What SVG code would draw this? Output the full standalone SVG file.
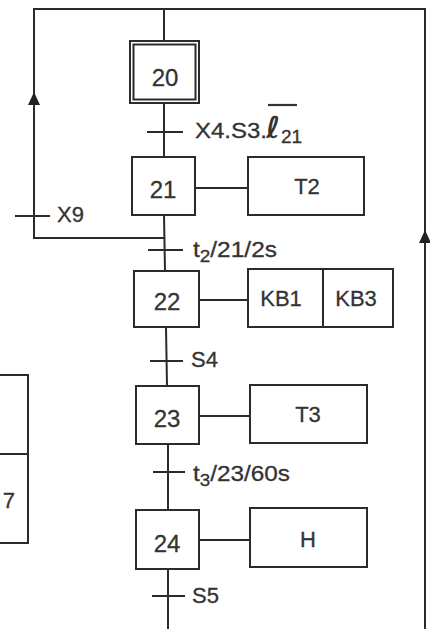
<svg xmlns="http://www.w3.org/2000/svg" width="430" height="629" viewBox="0 0 430 629">
<style>
.b{fill:#fff;stroke:#2b2b2b;stroke-width:2}
.l{fill:none;stroke:#2b2b2b;stroke-width:2}
.t{font-family:"Liberation Sans",Arial,sans-serif;font-size:22px;fill:#333;stroke:#333;stroke-width:0.3}
.n{font-family:"Liberation Sans",Arial,sans-serif;font-size:24px;fill:#333;stroke:#333;stroke-width:0.3;text-anchor:middle}
.a{font-family:"Liberation Sans",Arial,sans-serif;font-size:22px;fill:#333;stroke:#333;stroke-width:0.3;text-anchor:middle}
</style>
<rect width="430" height="629" fill="#fff"/>
<g id="connectors">
<polyline class="l" points="164,238 34,238 34,9 425,9 425,629"/>
<line class="l" x1="164" y1="9" x2="164" y2="41"/>
<line class="l" x1="164" y1="103" x2="164" y2="157"/>
<line class="l" x1="164" y1="215" x2="165" y2="271"/>
<line class="l" x1="166" y1="327" x2="167" y2="386"/>
<line class="l" x1="168" y1="444" x2="168" y2="510"/>
<line class="l" x1="168" y1="569" x2="168" y2="629"/>
<line class="l" x1="195" y1="188" x2="248" y2="188"/>
<line class="l" x1="199" y1="300" x2="248" y2="300"/>
<line class="l" x1="199" y1="416" x2="250" y2="416"/>
<line class="l" x1="199" y1="540" x2="250" y2="540"/>
<polygon points="34,92 28,105 40,105" fill="#222"/>
<polygon points="425,230 419,243 431,243" fill="#222"/>
</g>
<g id="transitions">
<line class="l" x1="147" y1="132" x2="183" y2="132"/>
<text class="t" x="195" y="138" textLength="72" lengthAdjust="spacingAndGlyphs">X4.S3.</text>
<text x="266" y="138" font-family="'DejaVu Sans',sans-serif" font-size="30" font-weight="bold" font-style="italic" fill="#333">ℓ</text>
<line x1="268" y1="105" x2="297" y2="105" stroke="#333" stroke-width="2.2"/>
<text class="t" x="281" y="143" style="font-size:19px">21</text>
<line class="l" x1="15" y1="216" x2="50" y2="216"/>
<text class="t" x="57" y="222">X9</text>
<line class="l" x1="148" y1="250" x2="183" y2="250"/>
<text class="t" x="193" y="257" textLength="84" lengthAdjust="spacingAndGlyphs">t<tspan dy="5" style="font-size:17px">2</tspan><tspan dy="-5">/21/2s</tspan></text>
<line class="l" x1="150" y1="361" x2="183" y2="361"/>
<text class="t" x="191" y="367">S4</text>
<line class="l" x1="153" y1="472" x2="185" y2="472"/>
<text class="t" x="193" y="481" textLength="97" lengthAdjust="spacingAndGlyphs">t<tspan dy="5" style="font-size:17px">3</tspan><tspan dy="-5">/23/60s</tspan></text>
<line class="l" x1="152" y1="596" x2="185" y2="596"/>
<text class="t" x="192" y="603">S5</text>
</g>
<g id="step20">
<rect class="b" x="130" y="41" width="69" height="62"/>
<rect class="b" x="133.5" y="44.5" width="62" height="55"/>
<text class="n" x="165" y="86">20</text>
</g>
<g id="step21">
<rect class="b" x="132" y="157" width="63" height="58"/>
<text class="n" x="163" y="198">21</text>
</g>
<g id="action21">
<rect class="b" x="248" y="157" width="116" height="58"/>
<text class="a" x="307" y="194">T2</text>
</g>
<g id="step22">
<rect class="b" x="134" y="271" width="65" height="56"/>
<text class="n" x="167" y="310">22</text>
</g>
<g id="action22">
<rect class="b" x="248" y="269" width="145" height="58"/>
<line class="l" x1="323" y1="269" x2="323" y2="327"/>
<text class="a" x="281" y="306">KB1</text>
<text class="a" x="356" y="306">KB3</text>
</g>
<g id="step23">
<rect class="b" x="136" y="386" width="63" height="58"/>
<text class="n" x="167" y="427">23</text>
</g>
<g id="action23">
<rect class="b" x="250" y="385" width="117" height="58"/>
<text class="a" x="308" y="422">T3</text>
</g>
<g id="step24">
<rect class="b" x="136" y="510" width="63" height="59"/>
<text class="n" x="167" y="552">24</text>
</g>
<g id="action24">
<rect class="b" x="250" y="508" width="117" height="59"/>
<text class="a" x="308" y="547">H</text>
</g>
<g id="leftbox">
<rect class="b" x="-5" y="375" width="33" height="168"/>
<line class="l" x1="-5" y1="454" x2="28" y2="454"/>
<text class="t" x="15" y="508" text-anchor="end">7</text>
</g>
</svg>
